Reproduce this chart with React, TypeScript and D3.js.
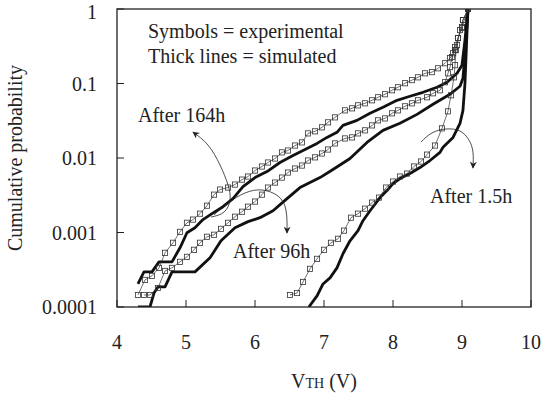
import React from "react";
import * as d3 from "d3";

// ---- axis ticks ----
const xTicks = [4, 5, 6, 7, 8, 9, 10];
const yTicks = [0.0001, 0.001, 0.01, 0.1, 1];
const yTickLabels = ["0.0001", "0.001", "0.01", "0.1", "1"];

// ---- experimental (symbols) ----
const exp164V = [4.304, 4.406, 4.507, 4.609, 4.696, 4.812, 4.913, 5.014, 5.101, 5.203, 5.304, 5.406, 5.493, 5.609, 5.71, 5.812, 5.899, 6.0, 6.101, 6.188, 6.29, 6.391, 6.478, 6.58, 6.681, 6.768, 6.87, 6.971, 7.058, 7.159, 7.304, 7.406, 7.493, 7.594, 7.696, 7.783, 7.884, 7.986, 8.072, 8.174, 8.275, 8.362, 8.464, 8.565, 8.652, 8.754, 8.826, 8.87, 8.899, 8.942, 9.0, 9.087];
const exp164P = [1.45e-4, 2.31e-4, 2.62e-4, 3.35e-4, 5.34e-4, 7.28e-4, 1.02e-3, 1.35e-3, 1.49e-3, 1.79e-3, 2.29e-3, 3.22e-3, 3.77e-3, 4.01e-3, 4.4e-3, 5.13e-3, 5.64e-3, 6.79e-3, 7.69e-3, 8.7e-3, 9.85e-3, 0.0119, 0.0126, 0.0147, 0.0162, 0.0214, 0.0228, 0.0258, 0.0301, 0.0351, 0.0436, 0.0464, 0.0509, 0.0542, 0.0595, 0.0653, 0.0717, 0.0811, 0.089, 0.1008, 0.111, 0.121, 0.137, 0.142, 0.16, 0.187, 0.219, 0.255, 0.308, 0.407, 0.572, 1];

const exp96V = [4.391, 4.478, 4.594, 4.696, 4.797, 4.913, 5.014, 5.116, 5.203, 5.304, 5.406, 5.507, 5.609, 5.71, 5.812, 5.899, 6.0, 6.101, 6.188, 6.29, 6.391, 6.478, 6.58, 6.681, 6.768, 6.87, 6.971, 7.058, 7.159, 7.304, 7.406, 7.493, 7.594, 7.696, 7.783, 7.884, 7.986, 8.072, 8.174, 8.275, 8.362, 8.493, 8.58, 8.681, 8.754, 8.797, 8.826, 8.855, 8.899, 8.928, 8.971, 9.014, 9.087];
const exp96P = [1.45e-4, 1.45e-4, 1.8e-4, 3.05e-4, 3.35e-4, 4.04e-4, 4.71e-4, 5.86e-4, 7.28e-4, 8.77e-4, 9.33e-4, 1.12e-3, 1.35e-3, 1.63e-3, 1.9e-3, 2.22e-3, 2.6e-3, 3.22e-3, 4.01e-3, 4.68e-3, 5.46e-3, 6.38e-3, 7.22e-3, 7.92e-3, 9.25e-3, 0.0102, 0.0115, 0.013, 0.0157, 0.0183, 0.0189, 0.0214, 0.0235, 0.0274, 0.032, 0.034, 0.0398, 0.0436, 0.0494, 0.0542, 0.0595, 0.0653, 0.0739, 0.0811, 0.104, 0.137, 0.166, 0.226, 0.281, 0.327, 0.521, 0.711, 1];

const exp15V = [6.507, 6.609, 6.696, 6.797, 6.899, 7.0, 7.101, 7.203, 7.29, 7.391, 7.493, 7.594, 7.696, 7.797, 7.899, 8.0, 8.101, 8.203, 8.304, 8.406, 8.493, 8.609, 8.71, 8.797, 8.841, 8.884, 8.899, 8.913, 8.942, 9.0, 9.014, 9.087];
const exp15P = [1.45e-4, 1.54e-4, 2.17e-4, 3.25e-4, 4.43e-4, 5.86e-4, 7.28e-4, 8.24e-4, 1.06e-3, 1.58e-3, 1.79e-3, 2.09e-3, 2.52e-3, 2.94e-3, 4.01e-3, 4.83e-3, 5.64e-3, 6.18e-3, 7.69e-3, 8.97e-3, 0.0111, 0.0147, 0.025, 0.0423, 0.0695, 0.121, 0.176, 0.281, 0.407, 0.555, 0.711, 1];

// ---- simulated (thick lines) ----
const sim164V = [4.304, 4.391, 4.507, 4.609, 4.797, 4.913, 5.014, 5.13, 5.246, 5.377, 5.536, 5.681, 5.826, 6.0, 6.174, 6.362, 6.551, 6.754, 6.899, 7.043, 7.188, 7.275, 7.478, 7.667, 7.855, 8.058, 8.246, 8.435, 8.638, 8.783, 8.928, 9.0, 9.043, 9.087];
const sim164P = [2.04e-4, 2.96e-4, 2.96e-4, 4.04e-4, 4.04e-4, 6.23e-4, 9.93e-4, 1.16e-3, 1.49e-3, 1.79e-3, 2.22e-3, 2.85e-3, 4.13e-3, 5.46e-3, 6.58e-3, 8.7e-3, 0.0108, 0.0134, 0.0157, 0.0189, 0.0221, 0.0274, 0.032, 0.0398, 0.0479, 0.0595, 0.0674, 0.0762, 0.089, 0.104, 0.137, 0.176, 0.382, 1];

const sim96V = [4.304, 4.478, 4.536, 4.594, 4.696, 4.797, 5.13, 5.348, 5.507, 5.71, 5.899, 6.072, 6.261, 6.464, 6.652, 6.797, 6.942, 7.13, 7.377, 7.623, 7.855, 8.101, 8.348, 8.58, 8.826, 8.971, 9.014, 9.058, 9.087];
const sim96P = [1e-4, 1e-4, 1.54e-4, 1.86e-4, 1.86e-4, 2.96e-4, 2.96e-4, 4.57e-4, 7.74e-4, 1.16e-3, 1.4e-3, 1.58e-3, 1.96e-3, 2.85e-3, 4.01e-3, 4.68e-3, 5.46e-3, 7.0e-3, 9.85e-3, 0.0162, 0.0235, 0.0292, 0.0385, 0.0526, 0.0717, 0.0918, 0.118, 0.382, 1];

const sim15V = [6.78, 6.899, 6.986, 7.087, 7.188, 7.275, 7.377, 7.493, 7.565, 7.667, 7.812, 7.913, 8.0, 8.101, 8.246, 8.391, 8.536, 8.681, 8.725, 8.87, 8.971, 9.014, 9.043, 9.072, 9.087];
const sim15P = [1e-4, 1.41e-4, 2.04e-4, 2.46e-4, 3.35e-4, 5.18e-4, 7.74e-4, 1.06e-3, 1.44e-3, 1.96e-3, 2.94e-3, 3.65e-3, 4.54e-3, 5.3e-3, 6.18e-3, 7.45e-3, 9.25e-3, 0.0119, 0.0139, 0.0189, 0.0292, 0.0436, 0.1008, 0.475, 1];

// ---- annotations (in data units) ----
const arrow164V = [5.362, 5.551, 5.638, 5.609, 5.493, 5.319, 5.101];
const arrow164P = [1.61e-3, 1.88e-3, 2.73e-3, 4.34e-3, 8.05e-3, 0.0149, 0.0223];
const arrow96V = [5.406, 5.609, 5.855, 6.101, 6.333, 6.449, 6.464];
const arrow96P = [1.72e-3, 2.49e-3, 3.39e-3, 3.72e-3, 3.09e-3, 2.0e-3, 9.85e-4];
const arrow15V = [8.406, 8.565, 8.768, 8.971, 9.101, 9.159, 9.159];
const arrow15P = [0.0164, 0.0217, 0.0245, 0.023, 0.0174, 0.012, 7.34e-3];

const labelTexts = ["After 164h", "After 96h", "After 1.5h", "Symbols = experimental", "Thick lines = simulated"];
const labelV = [4.304, 5.681, 8.536, 4.449, 4.449];
const labelP = [0.0304, 4.55e-4, 2.49e-3, 0.408, 0.188];

const FONT = "'Liberation Serif', 'Times New Roman', serif";
const INK = "#222";

type Pt = [number, number];
const zip = (v: number[], p: number[]): Pt[] => v.map((vv, i) => [vv, p[i]]);

export default function App() {
  const W = 542, H = 393;
  const L = 117, R = 531, T = 9, B = 307;
  const x = d3.scaleLinear().domain([4, 10]).range([L, R]);
  const y = d3.scaleLog().domain([1e-4, 1]).range([B, T]);
  const line = d3.line<Pt>().x(d => x(d[0])).y(d => y(d[1]));
  const curve = d3.line<Pt>().x(d => x(d[0])).y(d => y(d[1])).curve(d3.curveNatural);

  const expSeries = [zip(exp164V, exp164P), zip(exp96V, exp96P), zip(exp15V, exp15P)];
  const simSeries = [zip(sim164V, sim164P), zip(sim96V, sim96P), zip(sim15V, sim15P)];
  const arrows = [zip(arrow164V, arrow164P), zip(arrow96V, arrow96P), zip(arrow15V, arrow15P)];

  return (
    <svg width={W} height={H} style={{ position: "absolute", left: 0, top: 0, background: "#fff" }} fontFamily={FONT}>
      <defs>
        <clipPath id="plot">
          <rect x={L} y={T} width={R - L} height={B - T} />
        </clipPath>
        <marker id="ah" viewBox="0 0 10 10" refX="9" refY="5" markerWidth="7" markerHeight="7" markerUnits="userSpaceOnUse" orient="auto">
          <path d="M0,0 L10,5 L0,10 L3,5 z" fill={INK} />
        </marker>
      </defs>
      <rect x={0} y={0} width={W} height={H} fill="#fff" />

      <g clipPath="url(#plot)">
        {simSeries.map((s, i) => (
          <path key={"s" + i} d={line(s) || ""} fill="none" stroke="#111" strokeWidth={2.8} strokeLinejoin="round" />
        ))}
        {expSeries.map((s, i) => (
          <g key={"e" + i}>
            <path d={line(s) || ""} fill="none" stroke="#333" strokeWidth={0.7} />
            {s.map((d, j) => (
              <rect key={j} x={x(d[0]) - 2.6} y={y(d[1]) - 2.6} width={5.2} height={5.2} fill="none" stroke="#333" strokeWidth={0.8} />
            ))}
          </g>
        ))}
      </g>

      {arrows.map((a, i) => (
        <path key={"a" + i} d={curve(a) || ""} fill="none" stroke={INK} strokeWidth={0.8} markerEnd="url(#ah)" />
      ))}

      {labelTexts.map((t, i) => (
        <text key={"l" + i} x={x(labelV[i])} y={y(labelP[i])} fontSize={20} fill={INK}>{t}</text>
      ))}

      <rect x={L} y={T} width={R - L} height={B - T} fill="none" stroke={INK} strokeWidth={1.3} />

      {yTicks.map((t, i) => (
        <g key={"y" + i}>
          <line x1={L} x2={L + 7} y1={y(t)} y2={y(t)} stroke={INK} strokeWidth={1} />
          <text x={L - 20} y={Math.max(y(t), 12)} dy="0.35em" textAnchor="end" fontSize={20} fill={INK}>{yTickLabels[i]}</text>
        </g>
      ))}
      {xTicks.map((t, i) => (
        <g key={"x" + i}>
          <line x1={x(t)} x2={x(t)} y1={B} y2={B - 7} stroke={INK} strokeWidth={1} />
          <text x={x(t)} y={349} textAnchor="middle" fontSize={20} fill={INK}>{t}</text>
        </g>
      ))}

      <text x={(L + R) / 2} y={388} textAnchor="middle" fontSize={20} fill={INK}>
        V<tspan fontSize={14}>TH</tspan> (V)
      </text>
      <text transform={`translate(22,${(T + B) / 2}) rotate(-90)`} textAnchor="middle" fontSize={20} fill={INK}>
        Cumulative probability
      </text>
    </svg>
  );
}
